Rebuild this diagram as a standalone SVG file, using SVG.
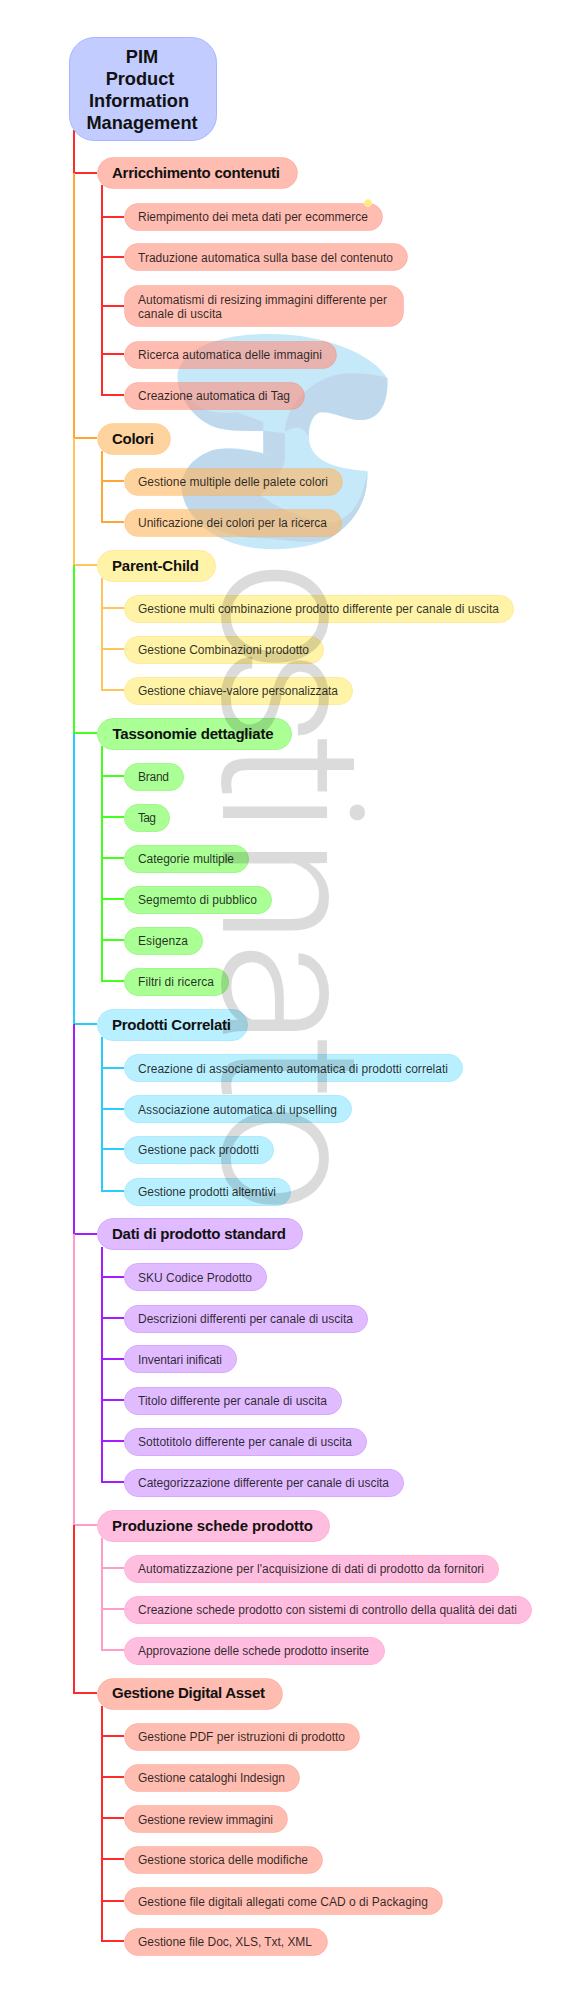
<svg xmlns="http://www.w3.org/2000/svg" width="564" height="1997" viewBox="0 0 564 1997">
<style>
text{font-family:"Liberation Sans",Arial,sans-serif;fill:#111;fill-opacity:.88}
.t1{font-size:15px;font-weight:bold;fill:#111;fill-opacity:1}
.t2{font-size:12px}
.t0{font-size:18.200px;font-weight:bold;fill:#111;fill-opacity:1;text-anchor:middle}
rect{stroke-width:1}
.red rect{fill:#ff8f7b;fill-opacity:.6;stroke:#ff6a50;stroke-opacity:.25}
.ora rect{fill:#ffb65d;fill-opacity:.6;stroke:#ff9a20;stroke-opacity:.2}
.yel rect{fill:#fff3a8;stroke:#ffeb9a}
.gre rect{fill:#aaff95;stroke:#a0f78a}
.cya rect{fill:#b9f0ff;stroke:#aeeaff}
.pur rect{fill:#e1bbff;stroke:#d8a8ff}
.pin rect{fill:#ffbee0;stroke:#ffb4da}
.root rect{fill:#c2ccff;stroke:#a8b6ff}
#connectors path{fill:none;stroke-width:2}
.wm{font-family:"Roboto",sans-serif;font-weight:300;font-size:197px;fill:#000;fill-opacity:.14}
</style>
<g id="logo" transform="translate(170 325) scale(.33333)">
<path fill="#c6e9f9" d="M22 150C30 90 110 27 300 27C470 27 610 90 652 160C655 215 640 285 570 285C530 285 490 258 450 262C425 272 415 310 417 340C420 400 480 432 592 438C595 520 560 590 480 640C420 670 330 678 260 670C140 655 50 590 36 500C30 440 70 395 130 375C190 362 240 375 280 385L280 317C200 320 150 315 120 300C60 270 22 210 22 150Z"/>
<path fill="#bfd8ec" d="M345 320C350 220 450 145 540 145C590 145 630 150 652 160C655 215 640 285 570 285C530 285 490 258 450 262C425 268 415 300 415 335C400 300 370 305 345 320ZM280 317L345 325V402L280 385ZM36 500C30 440 70 395 130 375C190 362 280 385 345 402C340 440 300 490 270 510C340 560 420 590 490 592C540 580 580 530 592 438C595 520 560 590 480 640C420 665 340 640 260 640C140 630 50 590 36 500ZM22 170C60 250 120 270 200 262L280 290V317C200 320 150 315 120 300C70 275 35 225 22 170Z"/>
</g>
<g id="connectors">
<path stroke="#ff2a2a" d="M74 130V173H97"/>
<path stroke="#ffa733" d="M74 173V438H97"/>
<path stroke="#ffc45c" d="M74 438V565H97"/>
<path stroke="#44ff1c" d="M74 565V733H97"/>
<path stroke="#29ccff" d="M74 733V1024H97"/>
<path stroke="#a51cff" d="M74 1024V1234H97"/>
<path stroke="#ff9cc8" d="M74 1234V1525H97"/>
<path stroke="#ff2a2a" d="M74 1525V1693H97"/>
<path stroke="#ff2a2a" d="M102 185V395H124M102 217H124M102 257H124M102 306H124M102 354H124"/>
<path stroke="#ffa733" d="M102 451V522H124M102 481H124"/>
<path stroke="#ffc45c" d="M102 578V690H124M102 608H124M102 649H124"/>
<path stroke="#44ff1c" d="M102 746V981H124M102 776H124M102 817H124M102 858H124M102 899H124M102 940H124"/>
<path stroke="#29ccff" d="M102 1037V1191H124M102 1068H124M102 1109H124M102 1149H124"/>
<path stroke="#a51cff" d="M102 1247V1482H124M102 1277H124M102 1318H124M102 1359H124M102 1400H124M102 1441H124"/>
<path stroke="#ff9cc8" d="M102 1538V1650H124M102 1568H124M102 1609H124"/>
<path stroke="#ff2a2a" d="M102 1706V1941H124M102 1736H124M102 1777H124M102 1818H124M102 1859H124M102 1901H124"/>
</g>
<g id="root" class="root"><rect x="69.500" y="37.500" width="147" height="103" rx="25"/>
<text class="t0" x="142" y="63">PIM</text><text class="t0" x="140" y="85">Product</text><text class="t0" x="139" y="107">Information</text><text class="t0" x="142" y="129">Management</text></g>

<g id="a0" class="red"><rect x="97.500" y="157.500" width="200" height="31" rx="15.500"/><text class="t1" x="112" y="178" textLength="168">Arricchimento contenuti</text></g>
<g id="a1" class="red"><rect x="124.500" y="203.500" width="258" height="27" rx="13.500"/><text class="t2" x="138" y="221" textLength="230">Riempimento dei meta dati per ecommerce</text><circle cx="368" cy="203" r="3.500" fill="#ffe97a" stroke="#fff2a8"/></g>
<g id="a2" class="red"><rect x="124.500" y="243.500" width="283" height="27" rx="13.500"/><text class="t2" x="138" y="262" textLength="255">Traduzione automatica sulla base del contenuto</text></g>
<g id="a3" class="red"><rect x="124.500" y="285.500" width="279" height="41" rx="14"/><text class="t2" x="138" y="304" textLength="249">Automatismi di resizing immagini differente per</text><text class="t2" x="138" y="318" textLength="84">canale di uscita</text></g>
<g id="a4" class="red"><rect x="124.500" y="341.500" width="212" height="27" rx="13.500"/><text class="t2" x="138" y="359" textLength="184">Ricerca automatica delle immagini</text></g>
<g id="a5" class="red"><rect x="124.500" y="382.500" width="180" height="27" rx="13.500"/><text class="t2" x="138" y="400" textLength="152">Creazione automatica di Tag</text></g>

<g id="b0" class="ora"><rect x="97.500" y="423.500" width="73" height="31" rx="15.500"/><text class="t1" x="112" y="444" textLength="42">Colori</text></g>
<g id="b1" class="ora"><rect x="124.500" y="468.500" width="218" height="27" rx="13.500"/><text class="t2" x="138" y="486" textLength="190">Gestione multiple delle palete colori</text></g>
<g id="b2" class="ora"><rect x="124.500" y="509.500" width="217" height="27" rx="13.500"/><text class="t2" x="138" y="527" textLength="189">Unificazione dei colori per la ricerca</text></g>

<g id="c0" class="yel"><rect x="97.500" y="550.500" width="118" height="31" rx="15.500"/><text class="t1" x="112" y="571" textLength="87">Parent-Child</text></g>
<g id="c1" class="yel"><rect x="124.500" y="595.500" width="389" height="27" rx="13.500"/><text class="t2" x="138" y="613" textLength="361">Gestione multi combinazione prodotto differente per canale di uscita</text></g>
<g id="c2" class="yel"><rect x="124.500" y="636.500" width="199" height="27" rx="13.500"/><text class="t2" x="138" y="654" textLength="171">Gestione Combinazioni prodotto</text></g>
<g id="c3" class="yel"><rect x="124.500" y="677.500" width="228" height="27" rx="13.500"/><text class="t2" x="138" y="695" textLength="200">Gestione chiave-valore personalizzata</text></g>

<g id="d0" class="gre"><rect x="97.500" y="718.500" width="194" height="31" rx="15.500"/><text class="t1" x="112.500" y="739" textLength="161">Tassonomie dettagliate</text></g>
<g id="d1" class="gre"><rect x="124.500" y="763.500" width="59" height="27" rx="13.500"/><text class="t2" x="138" y="781" textLength="31">Brand</text></g>
<g id="d2" class="gre"><rect x="124.500" y="804.500" width="45" height="27" rx="13.500"/><text class="t2" x="138" y="822" textLength="18">Tag</text></g>
<g id="d3" class="gre"><rect x="124.500" y="845.500" width="124" height="27" rx="13.500"/><text class="t2" x="138" y="863" textLength="96">Categorie multiple</text></g>
<g id="d4" class="gre"><rect x="124.500" y="886.500" width="147" height="27" rx="13.500"/><text class="t2" x="138" y="904" textLength="119">Segmemto di pubblico</text></g>
<g id="d5" class="gre"><rect x="124.500" y="927.500" width="78" height="27" rx="13.500"/><text class="t2" x="138" y="945" textLength="50">Esigenza</text></g>
<g id="d6" class="gre"><rect x="124.500" y="968.500" width="104" height="27" rx="13.500"/><text class="t2" x="138" y="986" textLength="76">Filtri di ricerca</text></g>

<g id="e0" class="cya"><rect x="97.500" y="1009.500" width="150" height="31" rx="15.500"/><text class="t1" x="112" y="1030" textLength="119">Prodotti Correlati</text></g>
<g id="e1" class="cya"><rect x="124.500" y="1054.500" width="338" height="27" rx="13.500"/><text class="t2" x="138" y="1073" textLength="310">Creazione di associamento automatica di prodotti correlati</text></g>
<g id="e2" class="cya"><rect x="124.500" y="1095.500" width="227" height="27" rx="13.500"/><text class="t2" x="138" y="1114" textLength="199">Associazione automatica di upselling</text></g>
<g id="e3" class="cya"><rect x="124.500" y="1136.500" width="149" height="27" rx="13.500"/><text class="t2" x="138" y="1154" textLength="121">Gestione pack prodotti</text></g>
<g id="e4" class="cya"><rect x="124.500" y="1178.500" width="166" height="27" rx="13.500"/><text class="t2" x="138" y="1196" textLength="138">Gestione prodotti alterntivi</text></g>

<g id="f0" class="pur"><rect x="97.500" y="1218.500" width="205" height="31" rx="15.500"/><text class="t1" x="112" y="1239" textLength="174">Dati di prodotto standard</text></g>
<g id="f1" class="pur"><rect x="124.500" y="1263.500" width="142" height="27" rx="13.500"/><text class="t2" x="138" y="1282" textLength="114">SKU Codice Prodotto</text></g>
<g id="f2" class="pur"><rect x="124.500" y="1305.500" width="243" height="27" rx="13.500"/><text class="t2" x="138" y="1323" textLength="215">Descrizioni differenti per canale di uscita</text></g>
<g id="f3" class="pur"><rect x="124.500" y="1345.500" width="112" height="27" rx="13.500"/><text class="t2" x="138" y="1364" textLength="84">Inventari inificati</text></g>
<g id="f4" class="pur"><rect x="124.500" y="1387.500" width="217" height="27" rx="13.500"/><text class="t2" x="138" y="1405" textLength="189">Titolo differente per canale di uscita</text></g>
<g id="f5" class="pur"><rect x="124.500" y="1428.500" width="242" height="27" rx="13.500"/><text class="t2" x="138" y="1446" textLength="214">Sottotitolo differente per canale di uscita</text></g>
<g id="f6" class="pur"><rect x="124.500" y="1469.500" width="279" height="27" rx="13.500"/><text class="t2" x="138" y="1487" textLength="251">Categorizzazione differente per canale di uscita</text></g>

<g id="g0" class="pin"><rect x="97.500" y="1510.500" width="232" height="31" rx="15.500"/><text class="t1" x="112" y="1531" textLength="201">Produzione schede prodotto</text></g>
<g id="g1" class="pin"><rect x="124.500" y="1555.500" width="374" height="27" rx="13.500"/><text class="t2" x="138" y="1573" textLength="346">Automatizzazione per l'acquisizione di dati di prodotto da fornitori</text></g>
<g id="g2" class="pin"><rect x="124.500" y="1596.500" width="407" height="27" rx="13.500"/><text class="t2" x="138" y="1614" textLength="379">Creazione schede prodotto con sistemi di controllo della qualità dei dati</text></g>
<g id="g3" class="pin"><rect x="124.500" y="1637.500" width="260" height="27" rx="13.500"/><text class="t2" x="138" y="1655" textLength="231">Approvazione delle schede prodotto inserite</text></g>

<g id="h0" class="red"><rect x="97.500" y="1678.500" width="185" height="31" rx="15.500"/><text class="t1" x="112" y="1698" textLength="153">Gestione Digital Asset</text></g>
<g id="h1" class="red"><rect x="124.500" y="1723.500" width="235" height="27" rx="13.500"/><text class="t2" x="138" y="1741" textLength="207">Gestione PDF per istruzioni di prodotto</text></g>
<g id="h2" class="red"><rect x="124.500" y="1764.500" width="175" height="27" rx="13.500"/><text class="t2" x="138" y="1782" textLength="147">Gestione cataloghi Indesign</text></g>
<g id="h3" class="red"><rect x="124.500" y="1805.500" width="163" height="27" rx="13.500"/><text class="t2" x="138" y="1824" textLength="135">Gestione review immagini</text></g>
<g id="h4" class="red"><rect x="124.500" y="1846.500" width="198" height="27" rx="13.500"/><text class="t2" x="138" y="1864" textLength="170">Gestione storica delle modifiche</text></g>
<g id="h5" class="red"><rect x="124.500" y="1887.500" width="318" height="27" rx="13.500"/><text class="t2" x="138" y="1906" textLength="290">Gestione file digitali allegati come CAD o di Packaging</text></g>
<g id="h6" class="red"><rect x="124.500" y="1928.500" width="203" height="27" rx="13.500"/><text class="t2" x="138" y="1946" textLength="174">Gestione file Doc, XLS, Txt, XML</text></g>

<text id="watermark" class="wm" transform="translate(223 0) rotate(90)" x="561 647 737 790 837 941 1038 1103">ostinato</text>
</svg>
